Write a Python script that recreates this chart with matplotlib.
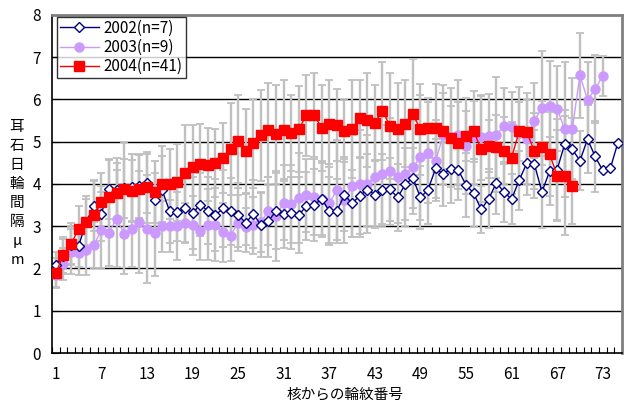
import numpy as np
import matplotlib
matplotlib.use("Agg")
import matplotlib.pyplot as plt

plt.rcParams['font.family'] = ['Noto Sans CJK JP', 'DejaVu Sans']

# ring number from the nucleus
rings_2002 = np.arange(1, 76)
rings_2003 = np.arange(1, 74)
rings_2004 = np.arange(1, 70)

mean_2002 = [2.08, 2.30, 2.55, 2.53, 3.10, 3.48, 3.30, 3.87, 3.86, 3.90,
             3.92, 3.95, 4.02, 3.61, 3.85, 3.35, 3.34, 3.42, 3.31, 3.51,
             3.37, 3.26, 3.42, 3.35, 3.27, 3.08, 3.29, 3.03, 3.13, 3.36,
             3.28, 3.32, 3.27, 3.48, 3.50, 3.65, 3.36, 3.36, 3.74, 3.54,
             3.72, 3.86, 3.75, 3.85, 3.87, 3.68, 3.99, 4.14, 3.68, 3.86,
             4.37, 4.24, 4.36, 4.32, 3.98, 3.78, 3.40, 3.65, 4.03, 3.81,
             3.64, 4.09, 4.49, 4.47, 3.81, 4.30, 4.34, 4.95, 4.82, 4.55,
             5.06, 4.65, 4.32, 4.37, 4.98]
sd_2002 = [0.30, 0.40, 0.45, 0.50, 0.55, 0.60, 0.65, 0.70, 0.75, 0.70,
           0.80, 0.75, 0.70, 0.65, 0.80, 0.75, 0.70, 0.80, 0.85, 0.75,
           0.80, 0.85, 0.90, 0.80, 0.75, 0.70, 0.80, 0.75, 0.85, 0.90,
           0.80, 0.85, 0.90, 0.80, 0.85, 0.90, 0.80, 0.75, 0.85, 0.80,
           0.90, 0.85, 0.80, 0.85, 0.75, 0.80, 0.85, 0.70, 0.75, 0.80,
           0.70, 0.75, 0.80, 0.70, 0.75, 0.80, 0.55, 0.70, 0.75, 0.70,
           0.59, 0.70, 0.75, 0.80, 0.85, 0.80, 1.20, 0.80, 0.75, 0.70,
           0.80, 0.83, np.nan, np.nan, np.nan]

mean_2003 = [1.85, 2.11, 2.40, 2.37, 2.44, 2.55, 2.91, 2.85, 3.18, 2.82,
             2.93, 3.10, 2.94, 2.83, 3.00, 3.00, 3.00, 3.08, 3.02, 2.88,
             3.04, 3.04, 2.86, 2.78, 3.08, 2.99, 3.02, 3.10, 3.36, 3.24,
             3.56, 3.53, 3.67, 3.73, 3.70, 3.65, 3.54, 3.86, 3.62, 3.95,
             4.01, 4.01, 4.17, 4.23, 4.30, 4.17, 4.24, 4.39, 4.63, 4.74,
             4.55, 5.15, 5.10, 5.17, 4.90, 5.10, 5.10, 5.14, 5.17, 5.37,
             5.34, 5.20, 5.07, 5.50, 5.80, 5.85, 5.78, 5.29, 5.31, 6.57,
             5.99, 6.24, 6.56]
sd_2003 = [0.28, 0.38, 0.53, 0.53, 0.60, 0.54, 0.90, 0.80, 1.14, 0.95,
           0.90, 1.20, 1.28, 1.00, 0.60, 0.62, 0.80, 0.48, 0.70, 0.68,
           0.84, 0.86, 0.70, 0.60, 0.66, 0.44, 0.67, 0.70, 0.80, 1.07,
           0.89, 0.93, 1.07, 0.86, 0.90, 0.85, 0.94, 1.19, 1.02, 1.20,
           1.26, 1.16, 1.18, 1.17, 1.26, 1.09, 1.24, 1.10, 1.48, 1.20,
           0.96, 1.18, 1.18, 1.28, 1.14, 1.10, 1.00, 1.00, 1.35, 0.90,
           0.84, 1.10, 1.08, 0.88, 1.34, 1.05, 1.01, 1.60, 1.20, 1.00,
           0.90, 0.80, 0.47]

mean_2004 = [1.90, 2.31, 2.58, 2.93, 3.10, 3.27, 3.58, 3.68, 3.79, 3.87,
             3.84, 3.87, 3.92, 3.81, 4.00, 4.00, 4.04, 4.25, 4.39, 4.47,
             4.46, 4.50, 4.62, 4.82, 5.01, 4.77, 4.96, 5.15, 5.28, 5.18,
             5.28, 5.20, 5.30, 5.63, 5.63, 5.33, 5.43, 5.39, 5.26, 5.29,
             5.55, 5.52, 5.45, 5.73, 5.37, 5.31, 5.42, 5.66, 5.29, 5.33,
             5.33, 5.25, 5.09, 4.96, 5.14, 5.25, 4.82, 4.90, 4.88, 4.79,
             4.62, 5.25, 5.23, 4.77, 4.87, 4.71, 4.20, 4.20, 3.95]
sd_2004 = [0.35, 0.43, 0.50, 0.54, 0.62, 0.82, 0.67, 0.92, 0.71, 1.12,
           0.73, 0.81, 0.84, 0.74, 0.91, 0.82, 0.91, 1.14, 1.01, 0.96,
           0.87, 0.81, 0.83, 1.09, 1.10, 1.01, 1.06, 1.07, 1.12, 1.17,
           1.17, 0.90, 1.01, 0.96, 1.00, 1.02, 1.04, 0.85, 0.73, 1.16,
           0.92, 1.11, 0.88, 1.16, 1.26, 1.07, 1.03, 1.29, 1.08, 0.71,
           1.04, 0.90, 0.76, 0.98, 0.59, 0.72, 1.25, 0.62, 0.75, 0.80,
           0.85, 0.70, 0.75, 0.90, 1.10, 1.00, 1.07, 1.41, 0.90]

xtick_labels = [1, 7, 13, 19, 25, 31, 37, 43, 49, 55, 61, 67, 73]

fig = plt.figure(figsize=(6.28, 4.03), dpi=100)
ax = fig.add_axes([0.0828, 0.124, 0.9072, 0.839])

# gray error bars behind everything
err_style = dict(fmt='none', ecolor='#c0c0c0', elinewidth=1.7, capsize=3.0,
                 capthick=1.3, zorder=1)
ax.errorbar(rings_2002, mean_2002, yerr=sd_2002, **err_style)
ax.errorbar(rings_2003, mean_2003, yerr=sd_2003, **err_style)
ax.errorbar(rings_2004, mean_2004, yerr=sd_2004, **err_style)

ax.plot(rings_2002, mean_2002, color='#000080', lw=1.0, marker='D', ms=5.6,
        mfc='white', mec='#000080', mew=1.0, label='2002(n=7)', zorder=4)
ax.plot(rings_2003, mean_2003, color='#cc99ff', lw=1.0, marker='o', ms=6.5,
        mfc='#cc99ff', mec='#cc99ff', label='2003(n=9)', zorder=3)
ax.plot(rings_2004, mean_2004, color='#ff0000', lw=1.0, marker='s', ms=6.5,
        mfc='#ff0000', mec='#ff0000', label='2004(n=41)', zorder=5)

ax.set_xlim(0.5, 75.5)
ax.set_ylim(0, 8)
ax.set_yticks(range(0, 9))
for y in range(1, 8):
    ax.axhline(y, color='black', lw=1.0, zorder=0)

ax.set_xticks(xtick_labels)
ax.set_xticks(np.arange(0.5, 76, 1), minor=True)
ax.tick_params(axis='x', which='major', length=0, pad=9, labelsize=11)
ax.tick_params(axis='x', which='minor', direction='in', length=4, width=0.8)
ax.tick_params(axis='y', direction='in', length=5, labelsize=11, pad=8)

ax.spines['top'].set_color('#808080')
ax.spines['top'].set_linewidth(2)
ax.spines['right'].set_color('#808080')
ax.spines['right'].set_linewidth(2)
ax.spines['left'].set_linewidth(1.2)
ax.spines['bottom'].set_linewidth(1.2)

# axis titles placed directly on the figure
fig.text(0.549, 0.004, '核からの輪紋番号', ha='center', va='bottom', fontsize=10.5)
fig.text(0.027, 0.52, '耳\n石\n日\n輪\n間\n隔\nμ\nm', ha='center', va='center',
         fontsize=10.5, linespacing=1.45)

leg = ax.legend(loc='upper left', bbox_to_anchor=(0.008, 0.995), fontsize=11,
                frameon=True, fancybox=False, edgecolor='black',
                borderpad=0.2, handlelength=2.6, labelspacing=0.15,
                handletextpad=0.3, borderaxespad=0)
leg.get_frame().set_linewidth(1.0)

fig.savefig('out.png', dpi=100)
